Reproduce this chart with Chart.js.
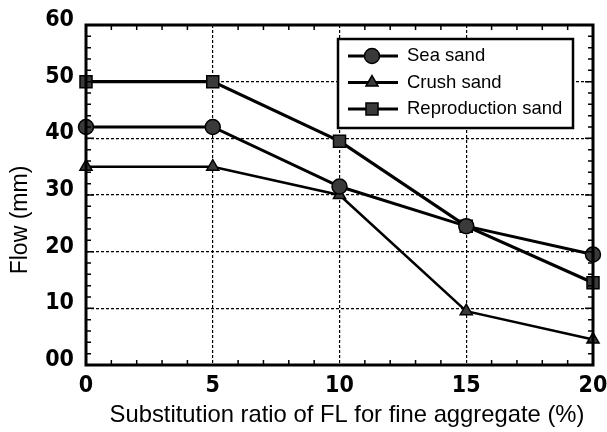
<!DOCTYPE html>
<html><head><meta charset="utf-8">
<script src="https://cdn.jsdelivr.net/npm/chart.js@4/dist/chart.umd.min.js"></script>
<style>html,body{margin:0;padding:0;background:#fff}#wrap{width:607px;height:432px}</style>
</head><body><div id="wrap"><canvas id="c" width="607" height="432"></canvas></div>
<script>
const xValues = [0, 5, 10, 15, 20];
const seaSand = [42, 42, 31.5, 24.5, 19.5];
const crushSand = [35, 35, 30, 9.5, 4.5];
const reproductionSand = [50, 50, 39.5, 24.5, 14.5];
const seriesNames = ["Sea sand", "Crush sand", "Reproduction sand"];
const yTickLabels = {0:"00",10:"10",20:"20",30:"30",40:"40",50:"50",60:"60"};
const xTickLabels = {0:"0",5:"5",10:"10",15:"15",20:"20"};
const xTitle = "Substitution ratio of FL for fine aggregate (%)";
const yTitle = "Flow (mm)";

const toPts = arr => xValues.map((x,i)=>({x:x,y:arr[i]}));
const styles = [
  {pointStyle:'circle', pointRadius:7.5, lw:3},
  {pointStyle:'triangle', pointRadius:7, lw:2.5},
  {pointStyle:'rect', pointRadius:8.5, lw:3.2}
];
const datasets = [seaSand, crushSand, reproductionSand].map((d,i)=>({
  label: seriesNames[i], data: toPts(d),
  borderColor:'#000', backgroundColor:'#333', pointBackgroundColor:'#3a3a3a',
  pointBorderColor:'#000', pointBorderWidth:1.5,
  borderWidth: styles[i].lw, pointStyle: styles[i].pointStyle,
  pointRadius: styles[i].pointRadius, tension:0, clip:false
}));

const framePlugin = {
  id:'frame',
  afterDraw(chart){
    const ctx = chart.ctx, a = chart.chartArea, xs = chart.scales.x, ys = chart.scales.y;
    ctx.save();
    ctx.strokeStyle = '#000';
    ctx.lineWidth = 1.5;
    ctx.beginPath();
    for (let v=0; v<=20; v+=1){
      if (v%5===0) continue;
      const px = xs.getPixelForValue(v);
      ctx.moveTo(px,a.bottom); ctx.lineTo(px,a.bottom-5);
      ctx.moveTo(px,a.top); ctx.lineTo(px,a.top+5);
    }
    for (let v=0; v<=60; v+=2){
      const py = ys.getPixelForValue(v); const len = v%10===0?8:5;
      ctx.moveTo(a.left,py); ctx.lineTo(a.left+len,py);
      ctx.moveTo(a.right,py); ctx.lineTo(a.right-len,py);
    }
    ctx.stroke();
    ctx.lineWidth = 3;
    ctx.strokeRect(a.left, a.top, a.right-a.left, a.bottom-a.top);
    ctx.fillStyle = '#000';
    ctx.textAlign = 'center'; ctx.textBaseline = 'middle';
    ctx.font = '23.8px "Liberation Sans", Arial, sans-serif';
    ctx.fillText(xTitle, 347, 415);
    ctx.font = '23px "Liberation Sans", Arial, sans-serif';
    ctx.save();
    ctx.translate(21, 220); ctx.rotate(-Math.PI/2);
    ctx.fillText(yTitle, 0, 0);
    ctx.restore();
    const lx = 338, ly = 39, lw = 235, lh = 89;
    ctx.fillStyle = '#fff';
    ctx.fillRect(lx, ly, lw, lh);
    ctx.lineWidth = 2.5;
    ctx.strokeRect(lx, ly, lw, lh);
    ctx.font = '18.5px "Liberation Sans", Arial, sans-serif';
    ctx.textAlign = 'left'; ctx.textBaseline = 'middle';
    chart.data.datasets.forEach((ds,i)=>{
      const y = ly + 17 + i*26.5;
      ctx.strokeStyle = '#000'; ctx.lineWidth = 3;
      ctx.beginPath(); ctx.moveTo(lx+10,y); ctx.lineTo(lx+60,y); ctx.stroke();
      ctx.fillStyle = '#3a3a3a'; ctx.strokeStyle='#000'; ctx.lineWidth=1.5;
      Chart.helpers.drawPoint(ctx, {pointStyle:ds.pointStyle, radius:ds.pointRadius, borderWidth:1.5}, lx+34, y);
      ctx.fillStyle = '#000';
      ctx.fillText(ds.label, lx+69, y);
    });
    ctx.restore();
  }
};

const tickFont = {family:'"DejaVu Sans Condensed", "Liberation Sans", Arial, sans-serif', size:23, weight:'bold'};
const gridColor = ctx => (ctx.tick && (ctx.tick.value===ctx.scale.min || ctx.tick.value===ctx.scale.max)) ? 'rgba(0,0,0,0)' : '#000';

new Chart(document.getElementById('c'), {
  type:'line',
  data:{datasets},
  options:{
    responsive:false, animation:false,
    layout:{padding:{left:4, right:14, top:25, bottom:0}},
    plugins:{legend:{display:false}, tooltip:{enabled:false}},
    scales:{
      x:{type:'linear', min:0, max:20,
        ticks:{stepSize:5, color:'#000', font:tickFont, padding:7, maxRotation:0,
          callback:v=>xTickLabels[v]!==undefined?xTickLabels[v]:''},
        grid:{color:gridColor, lineWidth:1.2, drawTicks:false},
        border:{display:false, dash:[3,2]},
        afterFit: s => { s.height = 432-365; s.paddingLeft = 0; s.paddingRight = 0; }
      },
      y:{min:0, max:60,
        ticks:{stepSize:10, color:'#000', font:tickFont, padding:12, labelOffset:-5,
          callback:v=>yTickLabels[v]!==undefined?yTickLabels[v]:''},
        grid:{color:gridColor, lineWidth:1.2, drawTicks:false},
        border:{display:false, dash:[3,2]},
        afterFit: s => { s.width = 86-4; s.paddingTop = 0; s.paddingBottom = 0; }
      }
    }
  },
  plugins:[framePlugin]
});
</script></body></html>
